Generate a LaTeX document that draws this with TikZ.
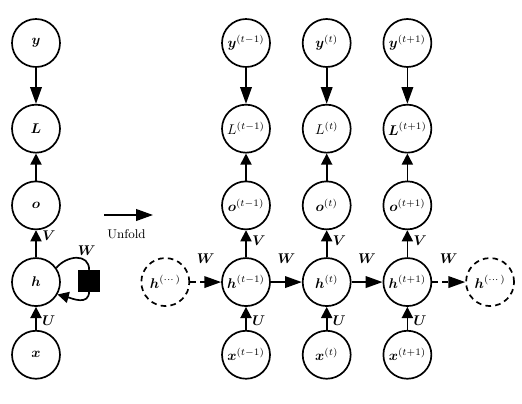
\documentclass[tikz,border=0pt]{standalone}
\usepackage{amsmath}
\usepackage{amssymb}
\usepackage{tikz}
\usetikzlibrary{arrows.meta,positioning}

\begin{document}
\begin{tikzpicture}[node distance=6.75mm and 7.75mm,
   unit/.style={draw,circle,minimum size=1.2cm,inner sep=0pt,line width=1.2pt},
   ghost/.style={unit,dash pattern=on 4pt off 3pt},
   arr/.style={-{Triangle[length=2.8mm,width=2.8mm]},line width=1.2pt},
   larr/.style={-{Triangle[length=4.2mm,width=2.9mm]},line width=1.2pt},
   lab/.style={inner sep=1pt}]
  \useasboundingbox (0,0) rectangle (13.05,-10.075);
  % folded net
  \node[unit] (y) at (0.9,-1.075) {$\boldsymbol{y}$};
  \node[unit,below=9mm of y] (L) {$\boldsymbol{L}$};
  \node[unit,below=of L] (o) {$\boldsymbol{o}$};
  \node[unit,below=of o] (h) {$\boldsymbol{h}$};
  \node[unit,below=5.75mm of h] (x) {$\boldsymbol{x}$};
  \node[draw,fill=black,minimum size=5.2mm,inner sep=0pt,
        right=4.4mm of h,yshift=0.4mm] (sq) {};
  \draw[larr] (y) -- (L);
  \draw[arr] (o) -- (L);
  \draw[arr] (h) -- node[lab,pos=0.8,right=1mm]{$\boldsymbol{V}$} (o);
  \draw[arr] (x) -- node[lab,pos=0.4,right=1mm]{$\boldsymbol{U}$} (h);
  \draw[line width=1.2pt] (h.35) to[out=50,in=90,looseness=1.3]
       node[lab,pos=0.8,above=1mm]{$\boldsymbol{W}$} (sq.north);
  \draw[arr] (sq.south) to[out=-90,in=-15,looseness=1.2] (h.-30);
  % unfold arrow
  \coordinate (u1) at (2.6,-5.375);
  \coordinate (u2) at (3.825,-5.375);
  \draw[larr] (u1) -- (u2);
  \node[font=\small,below right=2.3mm and -0.4mm of u1] (unf) {Unfold};
  % unfolded net
  \node[unit] (ya) at (6.15,-1.075) {$\boldsymbol{y}^{(t-1)}$};
  \node[unit,right=of ya] (yb) {$\boldsymbol{y}^{(t)}$};
  \node[unit,right=of yb] (yc) {$\boldsymbol{y}^{(t+1)}$};
  \node[unit,below=9mm of ya] (La) {$L^{(t-1)}$};
  \node[unit,below=9mm of yb] (Lb) {$L^{(t)}$};
  \node[unit,below=9mm of yc] (Lc) {$\boldsymbol{L}^{(t+1)}$};
  \node[unit,below=of La] (oa) {$\boldsymbol{o}^{(t-1)}$};
  \node[unit,below=of Lb] (ob) {$\boldsymbol{o}^{(t)}$};
  \node[unit,below=of Lc] (oc) {$\boldsymbol{o}^{(t+1)}$};
  \node[unit,below=of oa] (ha) {$\boldsymbol{h}^{(t-1)}$};
  \node[unit,below=of ob] (hb) {$\boldsymbol{h}^{(t)}$};
  \node[unit,below=of oc] (hc) {$\boldsymbol{h}^{(t+1)}$};
  \node[unit,below=5.75mm of ha] (xa) {$\boldsymbol{x}^{(t-1)}$};
  \node[unit,below=5.75mm of hb] (xb) {$\boldsymbol{x}^{(t)}$};
  \node[unit,below=5.75mm of hc] (xc) {$\boldsymbol{x}^{(t+1)}$};
  \node[ghost,left=of ha] (hl) {$\boldsymbol{h}^{(\cdots)}$};
  \node[ghost,right=8.25mm of hc] (hr) {$\boldsymbol{h}^{(\cdots)}$};
  \draw[larr] (ya) -- (La);
  \draw[larr] (yb) -- (Lb);
  \draw[larr] (yc) -- (Lc);
  \draw[arr] (oa) -- (La);
  \draw[arr] (ob) -- (Lb);
  \draw[arr] (oc) -- (Lc);
  \draw[arr] (ha) -- node[lab,pos=0.62,right=1mm]{$\boldsymbol{V}$} (oa);
  \draw[arr] (hb) -- node[lab,pos=0.62,right=1mm]{$\boldsymbol{V}$} (ob);
  \draw[arr] (hc) -- node[lab,pos=0.62,right=1mm]{$\boldsymbol{V}$} (oc);
  \draw[arr] (xa) -- node[lab,pos=0.4,right=1mm]{$\boldsymbol{U}$} (ha);
  \draw[arr] (xb) -- node[lab,pos=0.4,right=1mm]{$\boldsymbol{U}$} (hb);
  \draw[arr] (xc) -- node[lab,pos=0.4,right=1mm]{$\boldsymbol{U}$} (hc);
  \draw[larr,dash pattern=on 4pt off 3pt] (hl) -- node[lab,midway,above=4mm]{$\boldsymbol{W}$} (ha);
  \draw[larr] (ha) -- node[lab,midway,above=4mm]{$\boldsymbol{W}$} (hb);
  \draw[larr] (hb) -- node[lab,midway,above=4mm]{$\boldsymbol{W}$} (hc);
  \draw[larr,dash pattern=on 4pt off 3pt] (hc) -- node[lab,midway,above=4mm]{$\boldsymbol{W}$} (hr);
\end{tikzpicture}
\end{document}
